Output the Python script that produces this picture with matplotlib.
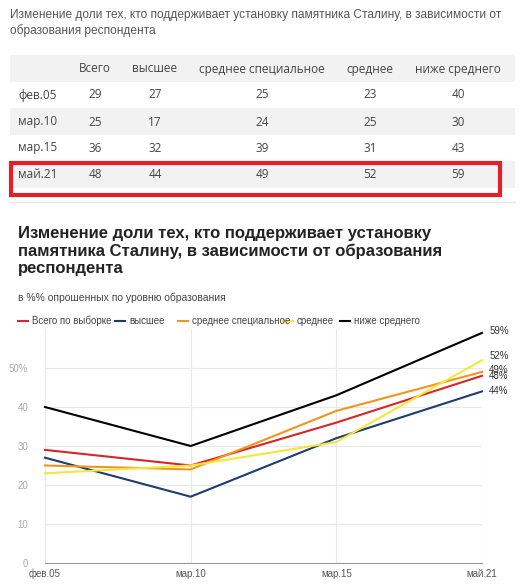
import matplotlib
matplotlib.use("Agg")
import matplotlib.pyplot as plt
from matplotlib.patches import Rectangle

plt.rcParams['font.family'] = ['Open Sans', 'DejaVu Sans']
ARIAL = ['Liberation Sans', 'DejaVu Sans']

periods = ["фев.05", "мар.10", "мар.15", "май.21"]
headers = ["Всего", "высшее", "среднее специальное", "среднее", "ниже среднего"]
total = [29, 25, 36, 48]
higher = [27, 17, 32, 44]
spec = [25, 24, 39, 49]
secondary = [23, 25, 31, 52]
below = [40, 30, 43, 59]
series = [total, higher, spec, secondary, below]
names = ["Всего по выборке", "высшее", "среднее специальное", "среднее", "ниже среднего"]
colors = ["#d62728", "#1f3c6e", "#f0961e", "#f5e63c", "#000000"]
yticks = [0, 10, 20, 30, 40, 50]
ytlabels = ["0", "10", "20", "30", "40", "50%"]

W, H = 532, 587
fig = plt.figure(figsize=(W/100, H/100), dpi=100)
bg = fig.add_axes([0, 0, 1, 1])
bg.set_xlim(0, W); bg.set_ylim(H, 0); bg.axis('off')

bg.text(10, 9, "Изменение доли тех, кто поддерживает установку памятника Сталину, в зависимости от\nобразования респондента",
        fontsize=8.6, color="#555555", va='top', linespacing=1.3, family=['Liberation Sans', 'DejaVu Sans'])
for y0, y1 in [(55, 82), (108, 135), (161, 188)]:
    bg.add_patch(Rectangle((10, y0), 505, y1 - y0, color="#f2f2f2", lw=0))
bg.plot([10, 515], [202, 202], color="#e6e6e6", lw=1)
colx = [95, 155, 262, 370, 458]
for x, h in zip(colx, headers):
    bg.text(x, 69, h, ha='center', va='center', fontsize=8.5, color="#444444")
rows_y = [95, 122, 148, 175]
for i, (p, y) in enumerate(zip(periods, rows_y)):
    bg.text(18, y, p, ha='left', va='center', fontsize=8.5, color="#444444")
    for x, s in zip(colx, series):
        bg.text(x, y, str(s[i]), ha='center', va='center', fontsize=8.5, color="#444444")
bg.add_patch(Rectangle((11, 163), 489, 32, fill=False, edgecolor="#e0202a", lw=3))

bg.text(18, 226, "Изменение доли тех, кто поддерживает установку\nпамятника Сталину, в зависимости от образования\nреспондента",
        fontsize=12, fontweight='bold', color="#222222", va='top', linespacing=1.2, family=ARIAL)
bg.text(18, 298, "в %% опрошенных по уровню образования", fontsize=7.5, color="#444444", va='center', family=ARIAL)
legx = [18, 115, 178, 283, 340]
for n, c, lx in zip(names, colors, legx):
    bg.plot([lx, lx + 10], [321, 321], color=c, lw=1.5)
    bg.text(lx + 14, 321, n, fontsize=7, color="#444444", va='center', family=ARIAL)

ax = fig.add_axes([45/W, 1 - 563/H, (482-45)/W, (563-329)/H])
x = list(range(len(periods)))
label_y = [48, 44, 49.5, 53, 59.5]
for s, c, ly in zip(series, colors, label_y):
    ax.plot(x, s, color=c, lw=1.5, clip_on=False)
    ax.text(3.05, ly, f"{s[-1]}%", fontsize=7, color="#333333", va='center', ha='left', family=ARIAL)
ax.set_xlim(0, 3); ax.set_ylim(0, 60)
ax.set_xticks(x); ax.set_xticklabels(periods, fontsize=7, color="#555555", family=ARIAL)
ax.set_yticks(yticks); ax.set_yticklabels(ytlabels, fontsize=7, color="#aaaaaa", family=ARIAL)
ax.tick_params(length=0, pad=4)
ax.tick_params(axis='y', pad=12)
ax.grid(True, color="#e8e8e8", lw=0.8)
for sp in ['top', 'right', 'left']:
    ax.spines[sp].set_visible(False)
ax.spines['bottom'].set_color("#999999")
ax.set_facecolor('none')
fig.savefig("out.png", dpi=100)
